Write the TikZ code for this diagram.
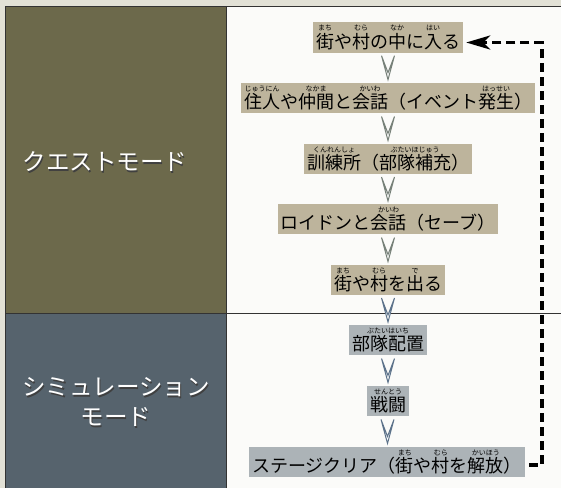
\documentclass[tikz,border=0pt]{standalone}
\usepackage{fontspec}
\setmainfont{Noto Sans CJK JP}
\usepackage{tikz}
\usetikzlibrary{arrows.meta,calc}
\usepackage{xcolor}
\definecolor{paperBg}{RGB}{226,225,214}
\definecolor{pageWhite}{RGB}{251,251,249}
\definecolor{questOlive}{RGB}{108,105,75}
\definecolor{simSlate}{RGB}{86,99,109}
\definecolor{tanBox}{RGB}{189,180,156}
\definecolor{greyBox}{RGB}{172,179,183}
\definecolor{veeGreen}{RGB}{118,128,120}
\definecolor{veeBlue}{RGB}{92,114,138}
% furigana above a word
\newcommand\furi[2]{\leavevmode\setbox0=\hbox{#1}\rlap{\raisebox{0.98em}{\makebox[\wd0][c]{\fontsize{7}{7}\selectfont #2}}}\box0}
\tikzset{
  questbox/.style={fill=tanBox, inner xsep=3pt, inner ysep=2.8pt, font=\fontsize{18}{20}\selectfont},
  simbox/.style={questbox, fill=greyBox},
  modelabel/.style={text=white, align=center, font=\fontsize{23.5}{30}\selectfont},
  modeshadow/.style={modelabel, text=black!75},
  vee/.pic={\draw[fill=white, line width=1pt, line join=miter, pic actions] (-6.5,-12) -- (0,12) -- (6.5,-12) -- (0,5) -- cycle;},
  backloop/.style={line width=3.6pt, dash pattern=on 9pt off 5pt, -{Stealth[length=24pt, width=14pt, inset=7pt]}, shorten <=4pt, shorten >=3pt}
}

\begin{document}
\begin{tikzpicture}[x=1pt, y=-1pt]
	\useasboundingbox (0,0) rectangle (561,488);
	\fill[paperBg] (0,0) rectangle (561,488);
	\fill[pageWhite] (226,6) rectangle (561,488);
	\fill[questOlive] (5,6) rectangle (226,313);
	\fill[simSlate] (5,313) rectangle (226,488);
	\draw[black!80, line width=0.6pt] (561,6) -- (5,6) -- (5,488);
	\draw[black!80, line width=0.6pt] (226,6) -- (226,488);
	\draw[black!80, line width=0.6pt] (5,313) -- (561,313);

	% mode names
	\node[modeshadow] (questshadow) at (106.2,163.5) {クエストモード};
	\node[modelabel] (questmode) at (105,162) {クエストモード};
	\node[modeshadow] (simshadow) at (117.2,403.5) {シミュレーション\\モード};
	\node[modelabel] (simmode) at (116,402) {シミュレーション\\モード};

	% steps
	\node[questbox] (enter) at (388,37.5) {\furi{街}{まち}や\furi{村}{むら}の\furi{中}{なか}に\furi{入}{はい}る};
	\node[questbox] (talk) at (388,98) {\furi{住人}{じゅうにん}や\furi{仲間}{なかま}と\furi{会話}{かいわ}（イベント\furi{発生}{はっせい}）};
	\node[questbox] (train) at (388,159) {\furi{訓練所}{くんれんしょ}（\furi{部隊補充}{ぶたいほじゅう}）};
	\node[questbox] (save) at (388,219) {ロイドンと\furi{会話}{かいわ}（セーブ）};
	\node[questbox] (leave) at (388,280) {\furi{街}{まち}や\furi{村}{むら}を\furi{出}{で}る};
	\node[simbox] (deploy) at (388,340) {\furi{部隊配置}{ぶたいはいち}};
	\node[simbox] (battle) at (388,401) {\furi{戦闘}{せんとう}};
	\node[simbox] (clear) at (387,462) {ステージクリア（\furi{街}{まち}や\furi{村}{むら}を\furi{解放}{かいほう}）};

	% chevrons between steps
	\pic[veeGreen] at ($(enter.south)!0.5!(talk.north)$) {vee};
	\pic[veeGreen] at ($(talk.south)!0.5!(train.north)$) {vee};
	\pic[veeGreen] at ($(train.south)!0.5!(save.north)$) {vee};
	\pic[veeGreen] at ($(save.south)!0.5!(leave.north)$) {vee};
	\pic[veeBlue] at ($(leave.south)!0.5!(deploy.north)$) {vee};
	\pic[veeBlue] at ($(deploy.south)!0.5!(battle.north)$) {vee};
	\pic[veeBlue] at ($(battle.south)!0.5!(clear.north)$) {vee};

	% back to the town
	\coordinate (loopx) at (542,0);
	\draw[backloop] ([yshift=-3pt]clear.east) -- ([yshift=-3pt]clear.east -| loopx) |- ([yshift=-5pt]enter.east);
\end{tikzpicture}
\end{document}
